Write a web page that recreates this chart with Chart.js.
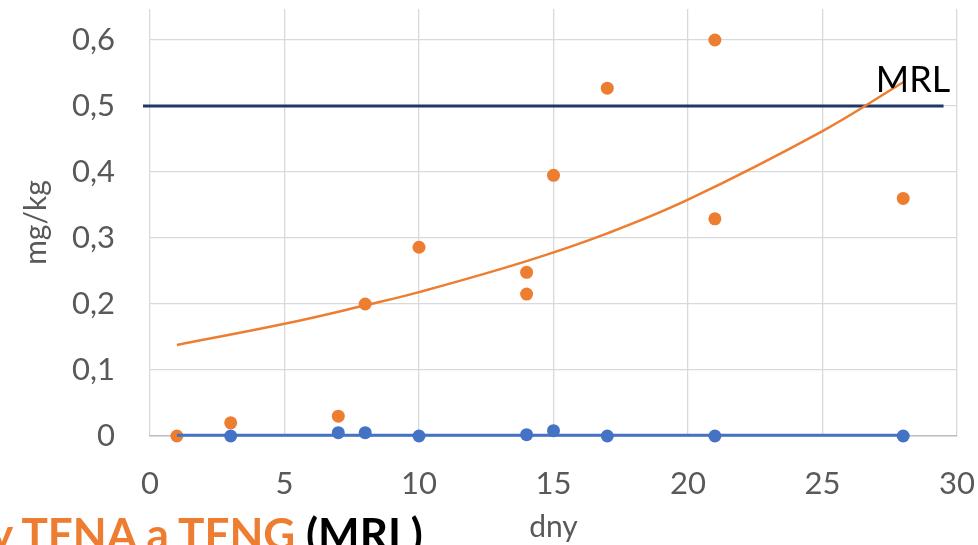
<!DOCTYPE html>
<html>
<head>
<meta charset="utf-8">
<script src="https://cdn.jsdelivr.net/npm/chart.js@4/dist/chart.umd.min.js"></script>
<style>
  html, body { margin: 0; padding: 0; background: #fff; overflow: hidden; }
  #wrap { position: relative; width: 978px; height: 545px; }
  #bottomTitle {
    position: absolute; left: -10px; top: 511px;
    font-family: Lato, sans-serif; font-weight: bold; font-size: 44px;
    line-height: 1; white-space: nowrap; color: #000;
  }
  #bottomTitle .o { color: #ED7D31; }
</style>
</head>
<body>
<div id="wrap">
  <canvas id="chart" width="978" height="545"></canvas>
  <div id="bottomTitle"><span class="o">y TFNA a TFNG</span> (MRL)</div>
</div>
<script>
// residues, days after treatment
const tfnaDays = [1, 3, 7, 8, 10, 14, 14, 15, 17, 21, 21, 28];
const tfnaValues = [0.0, 0.02, 0.03, 0.2, 0.286, 0.248, 0.215, 0.395, 0.527, 0.6, 0.329, 0.36];

const tfngDays = [3, 7, 8, 10, 14, 15, 17, 21, 28];
const tfngValues = [0, 0.005, 0.005, 0, 0.002, 0.008, 0, 0, 0];

// trend curves
const tfnaTrendDays = [1, 5, 8, 10, 14, 17, 20, 25, 28];
const tfnaTrendValues = [0.138, 0.17, 0.198, 0.218, 0.265, 0.307, 0.358, 0.462, 0.536];
const tfngTrendDays = [1, 28];
const tfngTrendValues = [0.001, 0.001];

const mrlDays = [-0.26, 29.5];
const mrlValues = [0.5, 0.5];
const mrlLabel = 'MRL';

const xTicks = [0, 5, 10, 15, 20, 25, 30];
const yTicks = [0, 0.1, 0.2, 0.3, 0.4, 0.5, 0.6];

const toPoints = (xs, ys) => xs.map((x, i) => ({ x: x, y: ys[i] }));

const ORANGE = '#ED7D31';
const BLUE = '#4472C4';
const NAVY = '#1F3864';
const GRID = '#D9D9D9';
const TEXT = '#595959';

const isTick = v => yTicks.some(t => Math.abs(t - v) < 1e-6);

const mrlText = {
  id: 'mrlText',
  afterDatasetsDraw(chart) {
    const { ctx, scales } = chart;
    ctx.save();
    ctx.font = '36px Lato';
    ctx.fillStyle = '#000';
    ctx.textAlign = 'right';
    ctx.textBaseline = 'alphabetic';
    ctx.fillText(mrlLabel, scales.x.getPixelForValue(29.75), scales.y.getPixelForValue(0.521));
    ctx.restore();
  }
};

// first dataset ends up on top
new Chart(document.getElementById('chart').getContext('2d'), {
  type: 'scatter',
  data: {
    datasets: [
      {
        label: 'TFNG',
        data: toPoints(tfngDays, tfngValues),
        backgroundColor: BLUE,
        borderWidth: 0,
        pointRadius: 6.5,
        clip: false
      },
      {
        label: 'TFNG trend',
        data: toPoints(tfngTrendDays, tfngTrendValues),
        showLine: true,
        borderColor: BLUE,
        borderWidth: 3,
        pointRadius: 0,
        clip: false
      },
      {
        label: 'TFNA',
        data: toPoints(tfnaDays, tfnaValues),
        backgroundColor: ORANGE,
        borderWidth: 0,
        pointRadius: 6.5,
        clip: false
      },
      {
        label: 'TFNA trend',
        data: toPoints(tfnaTrendDays, tfnaTrendValues),
        showLine: true,
        borderColor: ORANGE,
        borderWidth: 2.5,
        pointRadius: 0,
        tension: 0.4
      },
      {
        label: 'MRL',
        data: toPoints(mrlDays, mrlValues),
        showLine: true,
        borderColor: NAVY,
        borderWidth: 3,
        pointRadius: 0,
        clip: false
      }
    ]
  },
  options: {
    responsive: false,
    animation: false,
    events: [],
    layout: { padding: { left: 0, top: 9, right: 21, bottom: 0 } },
    plugins: {
      legend: { display: false },
      tooltip: { enabled: false }
    },
    scales: {
      x: {
        type: 'linear',
        min: 0,
        max: 30,
        afterFit: s => { s.height = 109; s.paddingLeft = 0; s.paddingRight = 0; },
        afterBuildTicks: s => { s.ticks = xTicks.map(v => ({ value: v })); },
        border: { display: true, color: '#BFBFBF', width: 1.5 },
        grid: { color: GRID, lineWidth: 1.3, drawTicks: false },
        ticks: {
          padding: 29,
          color: TEXT,
          font: { family: 'Lato', size: 31 },
          maxRotation: 0
        },
        title: {
          display: true,
          text: 'dny',
          color: TEXT,
          font: { family: 'Lato', size: 30 },
          padding: { top: 0, bottom: 0 }
        }
      },
      y: {
        min: 0,
        max: 0.647,
        afterFit: s => { s.width = 150; s.paddingTop = 0; s.paddingBottom = 0; },
        afterBuildTicks: s => { s.ticks = yTicks.map(v => ({ value: v })); },
        border: { display: false },
        grid: { color: GRID, lineWidth: 1.3, drawTicks: false },
        ticks: {
          padding: 35,
          color: TEXT,
          font: { family: 'Lato', size: 31 },
          callback: v => isTick(v) ? (v === 0 ? '0' : v.toFixed(1).replace('.', ',')) : ''
        },
        title: {
          display: true,
          text: 'mg/kg',
          color: TEXT,
          font: { family: 'Lato', size: 30 },
          padding: { top: 18, bottom: 0 }
        }
      }
    }
  },
  plugins: [mrlText]
});
</script>
</body>
</html>
